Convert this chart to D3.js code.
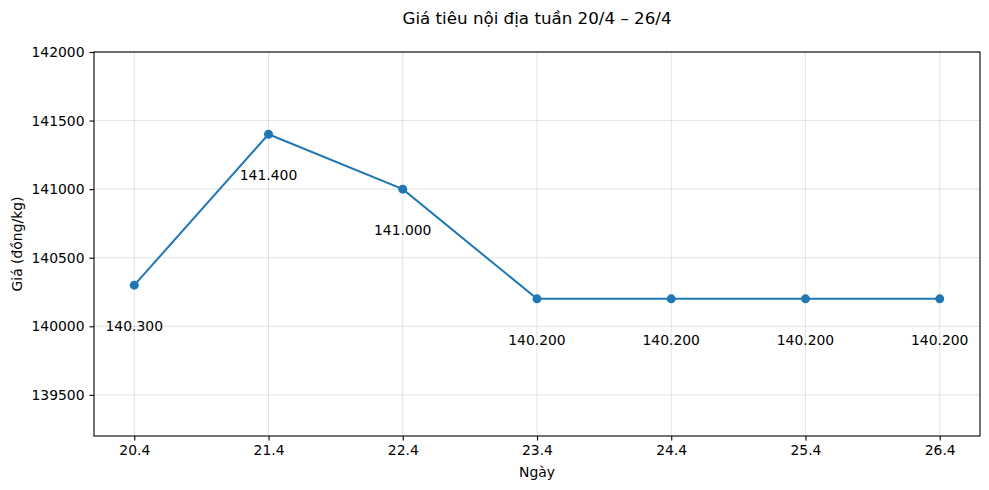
<!DOCTYPE html>
<html>
<head>
<meta charset="utf-8">
<script src="https://d3js.org/d3.v7.min.js"></script>
<style>
  body { margin: 0; background: #fff; }
  svg { font-family: "DejaVu Sans", sans-serif; }
</style>
</head>
<body>
<svg id="chart" width="989" height="490"></svg>
<script>
// data
var days = ["20.4", "21.4", "22.4", "23.4", "24.4", "25.4", "26.4"];
var prices = [140300, 141400, 141000, 140200, 140200, 140200, 140200];
var priceLabels = ["140.300", "141.400", "141.000", "140.200", "140.200", "140.200", "140.200"];
var yTicks = [139500, 140000, 140500, 141000, 141500, 142000];

var margin = {top: 52, right: 9, bottom: 54, left: 94},
    width = 989 - margin.left - margin.right,
    height = 490 - margin.top - margin.bottom;

var svg = d3.select("#chart");
var g = svg.append("g").attr("transform", "translate(" + margin.left + "," + margin.top + ")");

var x = d3.scaleLinear().domain([-0.3, days.length - 1 + 0.3]).range([0, width]);
var y = d3.scaleLinear().domain([139200, 142000]).range([height, 0]);

// grid
g.append("g").selectAll("line").data(days).join("line")
  .attr("x1", function(d, i) { return x(i); }).attr("x2", function(d, i) { return x(i); })
  .attr("y1", 0).attr("y2", height)
  .attr("stroke", "#b0b0b0").attr("stroke-opacity", 0.35).attr("stroke-width", 1);
g.append("g").selectAll("line").data(yTicks).join("line")
  .attr("x1", 0).attr("x2", width)
  .attr("y1", function(d) { return y(d); }).attr("y2", function(d) { return y(d); })
  .attr("stroke", "#b0b0b0").attr("stroke-opacity", 0.35).attr("stroke-width", 1);

// axes
var xAxis = g.append("g").attr("transform", "translate(0," + height + ")")
  .call(d3.axisBottom(x).tickValues(d3.range(days.length)).tickFormat(function(i) { return days[i]; })
    .tickSizeOuter(0).tickSize(4.5).tickPadding(5));
var yAxis = g.append("g")
  .call(d3.axisLeft(y).tickValues(yTicks).tickFormat(d3.format("d")).tickSizeOuter(0).tickSize(4.5).tickPadding(5));
[xAxis, yAxis].forEach(function(a) {
  a.selectAll("text").attr("font-size", 13.9).attr("fill", "#000").attr("font-family", "DejaVu Sans");
  a.selectAll("line").attr("stroke", "#000").attr("stroke-width", 1.1);
  a.select(".domain").remove();
});

// frame
g.append("rect").attr("width", width).attr("height", height)
  .attr("fill", "none").attr("stroke", "#000").attr("stroke-width", 1.1);

// line + points
var line = d3.line().x(function(d, i) { return x(i); }).y(function(d) { return y(d); });
g.append("path").datum(prices).attr("d", line)
  .attr("fill", "none").attr("stroke", "#1f77b4").attr("stroke-width", 2);
g.selectAll(".pt").data(prices).join("circle").attr("class", "pt")
  .attr("cx", function(d, i) { return x(i); }).attr("cy", function(d) { return y(d); })
  .attr("r", 4.5).attr("fill", "#1f77b4");

g.selectAll(".lbl").data(prices).join("text").attr("class", "lbl")
  .attr("x", function(d, i) { return x(i); })
  .attr("y", function(d) { return y(d) + 41; })
  .attr("dy", "0.35em").attr("text-anchor", "middle").attr("font-size", 13.9)
  .text(function(d, i) { return priceLabels[i]; });

// titles
svg.append("text").attr("x", margin.left + width / 2).attr("y", 18).attr("dy", "0.35em")
  .attr("text-anchor", "middle").attr("font-size", 16.7)
  .text("Giá tiêu nội địa tuần 20/4 – 26/4");
svg.append("text").attr("x", margin.left + width / 2).attr("y", 472).attr("dy", "0.35em")
  .attr("text-anchor", "middle").attr("font-size", 13.9).text("Ngày");
svg.append("text").attr("transform", "translate(17," + (margin.top + height / 2) + ") rotate(-90)")
  .attr("dy", "0.35em").attr("text-anchor", "middle").attr("font-size", 13.9).text("Giá (đồng/kg)");
</script>
</body>
</html>
